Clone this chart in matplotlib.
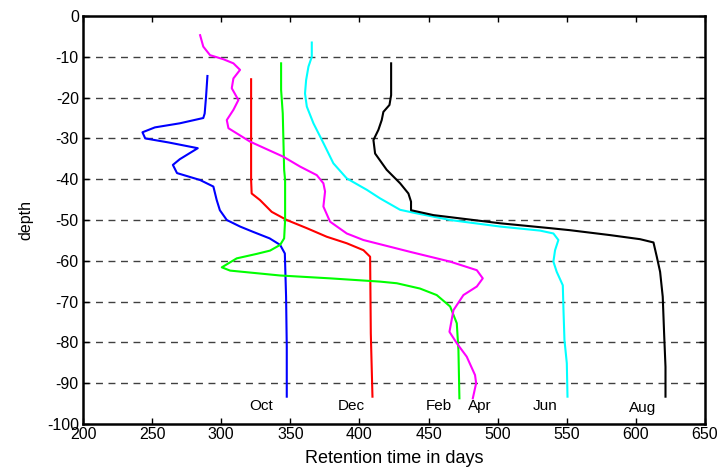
import matplotlib
matplotlib.use("Agg")
import matplotlib.pyplot as plt

plt.rcParams['font.family'] = ['Liberation Sans', 'DejaVu Sans']
plt.rcParams['axes.unicode_minus'] = False

# retention time (days) vs depth for each month
oct_x = [290, 289, 288, 287, 270, 252, 243, 245, 262, 283, 270, 265, 268, 284.7, 294.3, 296.7, 299, 304, 313.6, 323, 335, 342.6, 346, 346.9, 347.4, 347.4]
oct_d = [-14.7, -19.8, -23.9, -25, -26.3, -27.3, -28.5, -30, -31, -32.4, -35.1, -36.5, -38.5, -40.2, -41.8, -45.1, -47.6, -50, -51.6, -52.9, -54.5, -56.1, -58.2, -68.8, -81, -93.3]

dec_x = [321.6, 321.6, 322, 328, 336.5, 347.4, 361.9, 376.3, 390.8, 402.9, 407.7, 408.2, 409.4]
dec_d = [-15.5, -40.2, -43.5, -45.1, -48, -50, -52, -54.1, -55.7, -57.4, -59, -77.8, -93.3]

feb_x = [343.3, 343.3, 344.5, 345.5, 346.2, 346.2, 345.5, 342.6, 335.3, 325.7, 311.2, 300.4, 306.4, 342.6, 378.7, 414.9, 427, 443.8, 455.9, 465.6, 470.4, 471.6, 472.3]
feb_d = [-11.6, -18.1, -23.9, -37.7, -40.2, -50, -54.5, -56.1, -57.5, -58.3, -59.4, -61.6, -62.4, -63.6, -64.3, -65.1, -65.5, -66.8, -68.4, -71.2, -75.3, -81.9, -93.7]

apr_x = [284.7, 287, 291.9, 301.6, 308.8, 313.6, 308.8, 307.6, 312.4, 308.8, 304, 305.2, 320.9, 345, 357, 369.1, 373.9, 375.1, 373.9, 378.7, 390.8, 402.8, 436.6, 465.6, 484.9, 489.2, 484.9, 475.2, 468, 465.1, 470.4, 477.6, 483.6, 484.4, 482]
apr_d = [-4.7, -7.5, -9.6, -10.6, -11.6, -13.2, -15.3, -17.7, -20.6, -23, -25.5, -27.5, -30.8, -34.5, -36.9, -39, -41, -43, -46.7, -50.4, -53.3, -54.9, -57.8, -60.2, -62.3, -64.3, -66.3, -68.4, -72.1, -77.4, -80.2, -83.5, -88, -90, -93.7]

jun_x = [365.5, 365.5, 363.1, 361.4, 360.6, 361.9, 366.7, 374, 381.1, 390.8, 405.3, 414.9, 429.4, 439, 465.6, 501.7, 530.7, 540.3, 543.9, 541.5, 540.3, 542.7, 547.1, 547.6, 548.3, 550, 550.5]
jun_d = [-6.5, -10, -12.4, -15.7, -19, -22.2, -26.3, -31.2, -36.1, -39.8, -42.6, -44.7, -47.5, -48.2, -50, -51.6, -52.6, -53.3, -54.9, -57.4, -60.2, -62.7, -66, -72.1, -79.4, -85.1, -93.3]

aug_x = [422.9, 422.9, 421.7, 417.3, 416.1, 413.7, 410.1, 411.3, 419.7, 429.4, 435.4, 437.3, 437.3, 453.5, 477.6, 501.7, 538, 552.4, 581.3, 603, 612.7, 615.1, 617.5, 619.4, 620.4, 621.4, 621.4]
aug_d = [-11.6, -19.4, -21.8, -23.5, -25.5, -27.9, -30.4, -33.7, -37.7, -41, -43.5, -45.5, -47.6, -48.8, -49.8, -50.8, -52, -52.5, -53.7, -54.7, -55.5, -59, -62.7, -68.8, -77.8, -86, -93.3]

months = ['Oct', 'Dec', 'Feb', 'Apr', 'Jun', 'Aug']
label_x = [328.5, 394.4, 457.5, 486.7, 534.6, 605]
label_d = [-95.6, -95.6, -95.6, -95.6, -95.6, -96.0]

series = [(oct_x, oct_d, '#0000ff'), (dec_x, dec_d, '#ff0000'), (feb_x, feb_d, '#00ff00'),
          (apr_x, apr_d, '#ff00ff'), (jun_x, jun_d, '#00ffff'), (aug_x, aug_d, '#000000')]

fig = plt.figure(figsize=(7.17, 4.68), dpi=100)
ax = fig.add_axes([0.1158, 0.094, 0.8675, 0.8718])

for y in range(-90, 0, 10):
    ax.axhline(y, color='black', linestyle=(0, (5, 4)), linewidth=1, alpha=0.75, zorder=1)

for xs, ds, c in series:
    ax.plot(xs, ds, color=c, linewidth=1.5, zorder=2)

for m, lx, ld in zip(months, label_x, label_d):
    ax.text(lx, ld, m, ha='center', va='center', fontsize=11)

ax.set_xlim(200, 650)
ax.set_ylim(-100, 0)
ax.set_xticks(range(200, 651, 50))
ax.set_yticks(range(-100, 1, 10))
ax.tick_params(direction='in', top=True, right=True, labelsize=11.5, length=4, width=1)
ax.tick_params(axis='x', pad=2)
ax.tick_params(axis='y', pad=3)
for s in ax.spines.values():
    s.set_linewidth(1.8)
ax.set_xlabel('Retention time in days', fontsize=13, labelpad=6)
ax.set_ylabel('depth', fontsize=11.5, labelpad=10)

fig.savefig('out.png', dpi=100)
